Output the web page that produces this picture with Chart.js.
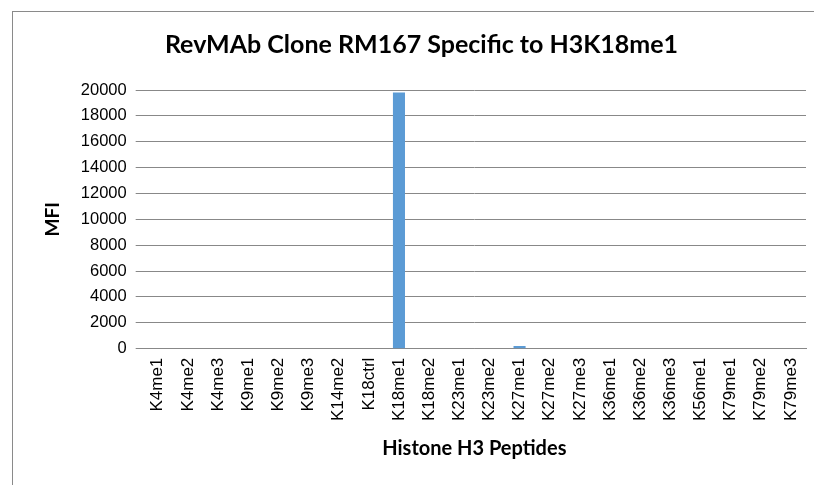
<!DOCTYPE html>
<html>
<head>
<meta charset="utf-8">
<script src="https://cdn.jsdelivr.net/npm/chart.js"></script>
<style>
  body { margin: 0; background: #fff; overflow: hidden; }
  #frame { position: absolute; left: 12px; top: 11px; width: 900px; height: 600px; border: 1px solid #8a8a8a; }
  #wrap { position: absolute; left: 0; top: 0; width: 814px; height: 485px; }
</style>
</head>
<body>
<div id="frame"></div>
<div id="wrap"><canvas id="chart"></canvas></div>
<script>
// peptides on the x axis
var peptides = ['K4me1', 'K4me2', 'K4me3', 'K9me1', 'K9me2', 'K9me3', 'K14me2', 'K18ctrl',
  'K18me1', 'K18me2', 'K23me1', 'K23me2', 'K27me1', 'K27me2', 'K27me3', 'K36me1',
  'K36me2', 'K36me3', 'K56me1', 'K79me1', 'K79me2', 'K79me3'];
// MFI readings
var mfi = [0, 0, 0, 0, 0, 0, 0, 0, 19800, 0, 0, 0, 200, 0, 0, 0, 0, 0, 0, 0, 0, 0];
var yTicks = [0, 2000, 4000, 6000, 8000, 10000, 12000, 14000, 16000, 18000, 20000];

document.addEventListener('DOMContentLoaded', function () {
  var ctx = document.getElementById('chart').getContext('2d');
  new Chart(ctx, {
    type: 'bar',
    data: {
      labels: peptides,
      datasets: [{
        label: 'MFI',
        data: mfi,
        backgroundColor: '#5b9bd5',
        borderWidth: 0,
        categoryPercentage: 1,
        barPercentage: 0.4
      }]
    },
    options: {
      responsive: true,
      maintainAspectRatio: false,
      animation: false,
      layout: { padding: { left: 37, right: 8, top: 10, bottom: 20 } },
      plugins: {
        legend: { display: false },
        tooltip: { enabled: false },
        title: {
          display: true,
          text: 'RevMAb Clone RM167 Specific to H3K18me1',
          color: '#000',
          font: { family: 'Lato', size: 25, weight: 'bold' },
          padding: { top: 20, bottom: 30 }
        }
      },
      scales: {
        x: {
          grid: { display: false, drawTicks: true, tickLength: 7, tickColor: '#888' },
          border: { color: '#888' },
          ticks: {
            color: '#000',
            font: { family: 'Liberation Sans', size: 17 },
            maxRotation: 90, minRotation: 90, autoSkip: false,
            padding: 2
          },
          title: {
            display: true,
            text: 'Histone H3 Peptides',
            color: '#000',
            font: { family: 'Lato', size: 20, weight: 'bold' },
            padding: { top: 14 }
          }
        },
        y: {
          min: 0, max: 20000,
          afterBuildTicks: function (axis) {
            axis.ticks = yTicks.map(function (v) { return { value: v }; });
          },
          grid: { color: '#888', tickLength: 7 },
          border: { display: false },
          ticks: {
            color: '#000',
            font: { family: 'Liberation Sans', size: 16.5 },
            padding: 9,
            callback: function (v) { return String(v); }
          },
          title: {
            display: true,
            text: 'MFI',
            color: '#000',
            font: { family: 'Lato', size: 19, weight: 'bold' },
            padding: { bottom: 8 }
          }
        }
      }
    }
  });
});
</script>
</body>
</html>
